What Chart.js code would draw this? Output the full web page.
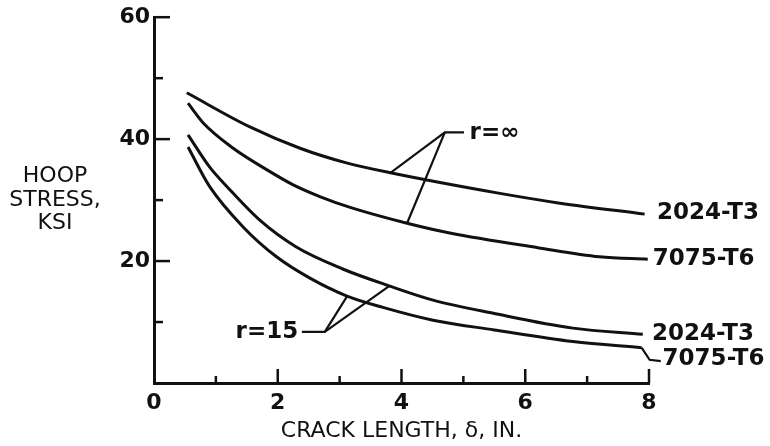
<!DOCTYPE html>
<html>
<head>
<meta charset="utf-8">
<script src="https://cdn.jsdelivr.net/npm/chart.js@4.4.1/dist/chart.umd.min.js"></script>
<style>
  html, body { margin: 0; padding: 0; background: #fff; }
  #wrap { width: 770px; height: 446px; }
</style>
</head>
<body>
<div id="wrap"><canvas id="hoopChart"></canvas></div>
<script>
// ---- hoop stress vs crack length ----

// r = infinity
const al2024InfX = [0.53, 1.55, 2.36, 3.11, 3.86, 5.59, 6.56, 7.93];
const al2024InfY = [47.6, 42.0, 38.5, 36.1, 34.4, 31.1, 29.5, 27.7];
const al7075InfX = [0.55, 0.80, 1.28, 1.82, 2.25, 2.70, 3.17, 4.09, 4.78, 6.2, 7.2, 7.98];
const al7075InfY = [45.9, 42.6, 38.5, 35.0, 32.5, 30.5, 28.8, 26.2, 24.6, 22.2, 20.7, 20.3];

// r = 15
const al2024R15X = [0.55, 0.90, 1.18, 1.71, 2.30, 3.05, 3.81, 4.51, 5.50, 6.77, 7.90];
const al2024R15Y = [40.7, 35.4, 32.2, 26.7, 22.3, 18.7, 15.9, 13.6, 11.4, 9.0, 8.0];
const al7075R15X = [0.55, 0.90, 1.44, 1.98, 2.52, 3.11, 3.70, 4.51, 5.50, 6.77, 7.88];
const al7075R15Y = [38.7, 32.2, 25.6, 20.7, 17.2, 14.3, 12.4, 10.3, 8.7, 6.8, 5.8];

// axis ticks
const xMajorTicks = [0, 2, 4, 6, 8];
const xMinorTicks = [1, 3, 5, 7];
const yMajorTicks = [20, 40, 60];
const yMinorTicks = [10, 30, 50];
const yTitleLines = ['HOOP', 'STRESS,', 'KSI'];

// leader lines (data units)
const leaderInf = [[[5.01, 41.1], [4.70, 41.1], [3.81, 34.4]], [[4.70, 41.1], [4.09, 26.2]]];
const leader15 = [[[2.39, 8.4], [2.76, 8.4], [3.12, 14.2]], [[2.76, 8.4], [3.80, 15.9]]];
const leader7075 = [[[7.88, 5.8], [8.01, 3.8], [8.19, 3.6]]];

// text labels: [text, x, y, align]
const curveLabels = [
  ['2024-T3', 8.13, 27.8, 'left'],
  ['7075-T6', 8.06, 20.3, 'left'],
  ['2024-T3', 8.05, 8.1, 'left'],
  ['7075-T6', 8.22, 3.9, 'left'],
  ['r=\u221E', 5.10, 41.0, 'left'],
  ['r=15', 2.33, 8.4, 'right']
];

const ink = '#111';
const labelFont = 'bold 23px "DejaVu Sans"';

function pts(xs, ys) {
  return xs.map((x, i) => ({ x: x, y: ys[i] }));
}

function curve(label, xs, ys) {
  return {
    label: label,
    data: pts(xs, ys),
    borderColor: ink,
    borderWidth: 3,
    pointRadius: 0,
    fill: false,
    cubicInterpolationMode: 'monotone'
  };
}

// inward ticks, horizontal y title, leaders and curve labels
const decorPlugin = {
  id: 'decor',
  afterDraw(chart) {
    const ctx = chart.ctx;
    const xs = chart.scales.x, ys = chart.scales.y;
    const x0 = xs.getPixelForValue(0), y0 = ys.getPixelForValue(0);
    ctx.save();
    ctx.strokeStyle = ink;
    ctx.lineCap = 'butt';

    // y ticks (pointing into plot)
    ctx.lineWidth = 2.5;
    yMajorTicks.forEach(v => {
      const py = ys.getPixelForValue(v);
      ctx.beginPath(); ctx.moveTo(x0, py); ctx.lineTo(x0 + 16, py); ctx.stroke();
    });
    yMinorTicks.forEach(v => {
      const py = ys.getPixelForValue(v);
      ctx.beginPath(); ctx.moveTo(x0, py); ctx.lineTo(x0 + 9, py); ctx.stroke();
    });
    // x ticks (pointing up)
    xMajorTicks.slice(1).forEach(v => {
      const px = xs.getPixelForValue(v);
      ctx.beginPath(); ctx.moveTo(px, y0); ctx.lineTo(px, y0 - 14); ctx.stroke();
    });
    xMinorTicks.forEach(v => {
      const px = xs.getPixelForValue(v);
      ctx.beginPath(); ctx.moveTo(px, y0); ctx.lineTo(px, y0 - 7); ctx.stroke();
    });

    // leader lines
    ctx.lineWidth = 2.2;
    ctx.lineJoin = 'miter';
    [].concat(leaderInf, leader15, leader7075).forEach(path => {
      ctx.beginPath();
      path.forEach((p, i) => {
        const px = xs.getPixelForValue(p[0]), py = ys.getPixelForValue(p[1]);
        if (i === 0) ctx.moveTo(px, py); else ctx.lineTo(px, py);
      });
      ctx.stroke();
    });

    // labels
    ctx.fillStyle = ink;
    ctx.font = labelFont;
    ctx.textBaseline = 'middle';
    curveLabels.forEach(l => {
      ctx.textAlign = l[3];
      ctx.fillText(l[0], xs.getPixelForValue(l[1]), ys.getPixelForValue(l[2]));
    });

    // y axis title, written horizontally
    ctx.font = '22px "DejaVu Sans"';
    ctx.textAlign = 'center';
    const cy = ys.getPixelForValue(30);
    yTitleLines.forEach((t, i) => {
      ctx.fillText(t, x0 - 99, cy + (i - 1) * 23.5);
    });
    ctx.restore();
  }
};

new Chart(document.getElementById('hoopChart'), {
  type: 'line',
  data: {
    datasets: [
      curve('2024-T3, r=\u221E', al2024InfX, al2024InfY),
      curve('7075-T6, r=\u221E', al7075InfX, al7075InfY),
      curve('2024-T3, r=15', al2024R15X, al2024R15Y),
      curve('7075-T6, r=15', al7075R15X, al7075R15Y)
    ]
  },
  options: {
    responsive: true,
    maintainAspectRatio: false,
    animation: false,
    layout: { padding: { top: 16, right: 121, left: 0, bottom: 0 } },
    plugins: {
      legend: { display: false },
      tooltip: { enabled: false }
    },
    scales: {
      x: {
        type: 'linear',
        min: 0,
        max: 8,
        afterFit: s => { s.height = 63; },
        grid: { display: false, drawTicks: false },
        border: { display: true, color: ink, width: 3 },
        ticks: {
          stepSize: 2,
          padding: 7,
          color: ink,
          font: { family: 'DejaVu Sans', size: 22, weight: 'bold' }
        },
        title: {
          display: true,
          text: 'CRACK LENGTH, \u03B4, IN.',
          color: ink,
          font: { family: 'DejaVu Sans', size: 22 },
          padding: { top: 0, bottom: 2 }
        }
      },
      y: {
        min: 0,
        max: 60,
        afterFit: s => { s.width = 154; },
        grid: { display: false, drawTicks: false },
        border: { display: true, color: ink, width: 3 },
        ticks: {
          stepSize: 20,
          padding: 4,
          color: ink,
          font: { family: 'DejaVu Sans', size: 22, weight: 'bold' },
          callback: v => (v === 0 ? '' : v)
        }
      }
    }
  },
  plugins: [decorPlugin]
});
</script>
</body>
</html>
